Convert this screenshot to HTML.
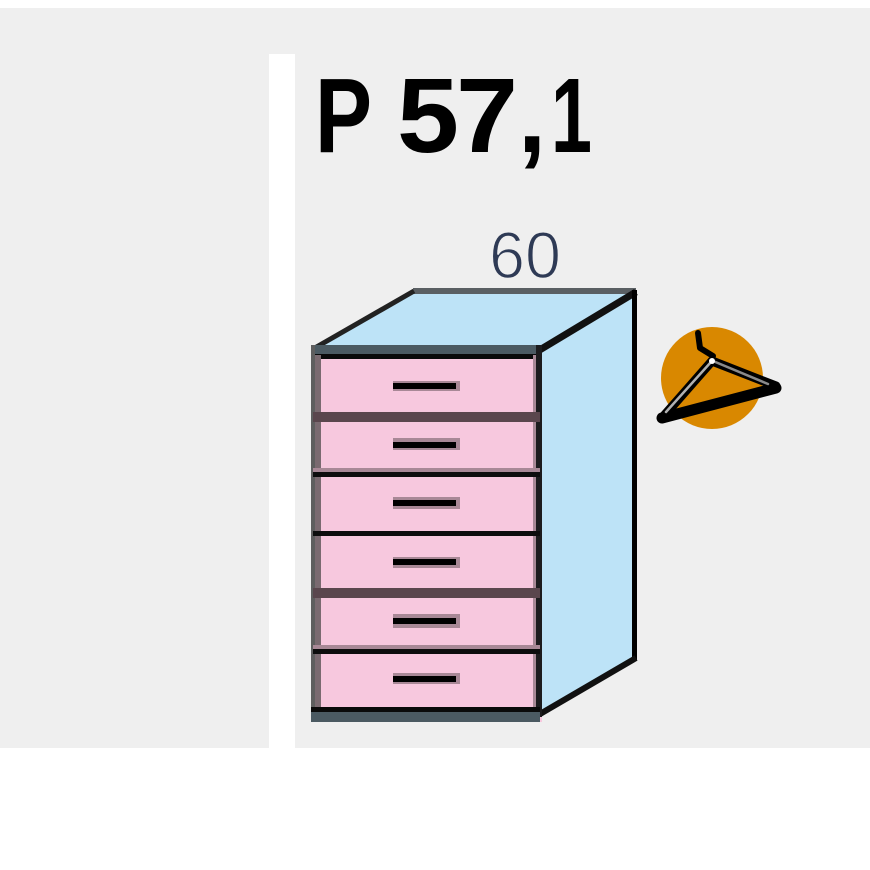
<!DOCTYPE html>
<html>
<head>
<meta charset="utf-8">
<style>
html,body{margin:0;padding:0;background:#ffffff;}
svg{display:block;}
</style>
</head>
<body>
<svg width="870" height="870" viewBox="0 0 870 870" xmlns="http://www.w3.org/2000/svg">
  <!-- background -->
  <rect x="0" y="0" width="870" height="870" fill="#ffffff"/>
  <rect x="0" y="8" width="870" height="740" fill="#efefef"/>
  <rect x="269" y="54" width="26" height="694" fill="#ffffff"/>

  <!-- Title P 57,1 -->
  <g font-family="Liberation Sans, sans-serif" font-weight="bold" font-size="106" fill="#000">
    <text x="315" y="152" textLength="57" lengthAdjust="spacingAndGlyphs">P</text>
    <text x="397" y="152" textLength="62" lengthAdjust="spacingAndGlyphs">5</text>
    <text x="456" y="152" textLength="62" lengthAdjust="spacingAndGlyphs">7</text>
    <text x="518" y="152" textLength="28" lengthAdjust="spacingAndGlyphs">,</text>
    <text x="551" y="152" textLength="41" lengthAdjust="spacingAndGlyphs">1</text>
  </g>

  <!-- 60 -->
  <text x="489" y="278" font-family="Liberation Sans, sans-serif" font-size="66" fill="#2e3a55" stroke="#efefef" stroke-width="1.5" textLength="72" lengthAdjust="spacingAndGlyphs">60</text>

  <!-- Cabinet top face -->
  <polygon points="313,349 413,291 636,291 538,349" fill="#bde3f7"/>
  <!-- Side face -->
  <polygon points="538,349 636,291 636,658 538,715" fill="#bde3f7"/>
  <!-- top back edge -->
  <line x1="413" y1="291" x2="636" y2="291" stroke="#5a5f63" stroke-width="6"/>
  <!-- left slanted top edge -->
  <line x1="313" y1="349" x2="414" y2="291" stroke="#222" stroke-width="5"/>
  <!-- right slanted top edge -->
  <line x1="538" y1="351" x2="636" y2="292" stroke="#111" stroke-width="7"/>
  <!-- right vertical -->
  <line x1="634.5" y1="290" x2="634.5" y2="660" stroke="#000" stroke-width="5"/>
  <!-- bottom slanted edge -->
  <line x1="540" y1="714" x2="636" y2="658" stroke="#111" stroke-width="6"/>

  <!-- Front face -->
  <rect x="311" y="345" width="231" height="377" fill="#f7c8de"/>
  <!-- top band -->
  <rect x="311" y="345" width="231" height="10" fill="#4b5a62"/>
  <rect x="311" y="354" width="231" height="5" fill="#0a0a0a"/>
  <!-- left border -->
  <rect x="311" y="345" width="4" height="377" fill="#5e5e5e"/>
  <rect x="315" y="355" width="6" height="355" fill="#7a6a70"/>
  <!-- right border -->
  <rect x="533" y="355" width="4" height="355" fill="#a88896"/>
  <rect x="536" y="345" width="6" height="372" fill="#1c1c1e"/>

  <!-- dividers -->
  <rect x="313" y="412" width="227" height="10" fill="#5a464d"/>
  <rect x="313" y="468" width="227" height="5" fill="#a88896"/>
  <rect x="313" y="472" width="227" height="5" fill="#0d0d0d"/>
  <rect x="313" y="531" width="227" height="5" fill="#0d0d0d"/>
  <rect x="313" y="588" width="227" height="10" fill="#5a464d"/>
  <rect x="313" y="645" width="227" height="5" fill="#a88896"/>
  <rect x="313" y="649" width="227" height="5" fill="#0d0d0d"/>
  <!-- bottom -->
  <rect x="311" y="707" width="229" height="6" fill="#0a0a0a"/>
  <rect x="311" y="712" width="229" height="10" fill="#4b5a62"/>

  <!-- handles -->
  <g>
    <rect x="393" y="381" width="67" height="10" fill="#a88896"/>
    <rect x="393" y="383" width="63" height="6" fill="#000"/>
    <rect x="393" y="438" width="67" height="12" fill="#a88896"/>
    <rect x="393" y="442" width="63" height="6" fill="#000"/>
    <rect x="393" y="497" width="67" height="12" fill="#a88896"/>
    <rect x="393" y="500" width="63" height="6" fill="#000"/>
    <rect x="393" y="557" width="67" height="11" fill="#a88896"/>
    <rect x="393" y="559" width="63" height="6" fill="#000"/>
    <rect x="393" y="614" width="67" height="14" fill="#a88896"/>
    <rect x="393" y="618" width="63" height="6" fill="#000"/>
    <rect x="393" y="673" width="67" height="11" fill="#a88896"/>
    <rect x="393" y="676" width="63" height="6" fill="#000"/>
  </g>

  <!-- hanger icon -->
  <circle cx="712" cy="378" r="51" fill="#d98800"/>
  <g fill="none" stroke-linecap="round" stroke-linejoin="round">
    <polyline points="698,333 700,348 713,356" stroke="#000" stroke-width="6"/>
    <line x1="712" y1="361" x2="662" y2="418" stroke="#000" stroke-width="9"/>
    <line x1="712" y1="361" x2="776" y2="386" stroke="#000" stroke-width="9"/>
    <line x1="662" y1="418" x2="776" y2="388" stroke="#000" stroke-width="11"/>
    <line x1="711" y1="362" x2="666" y2="412" stroke="#b0b0b0" stroke-width="2.5"/>
    <line x1="713" y1="361" x2="768" y2="384" stroke="#8a8a8a" stroke-width="2.5"/>
    <circle cx="712" cy="361" r="3" fill="#ffffff" stroke="none"/>
  </g>
</svg>
</body>
</html>
